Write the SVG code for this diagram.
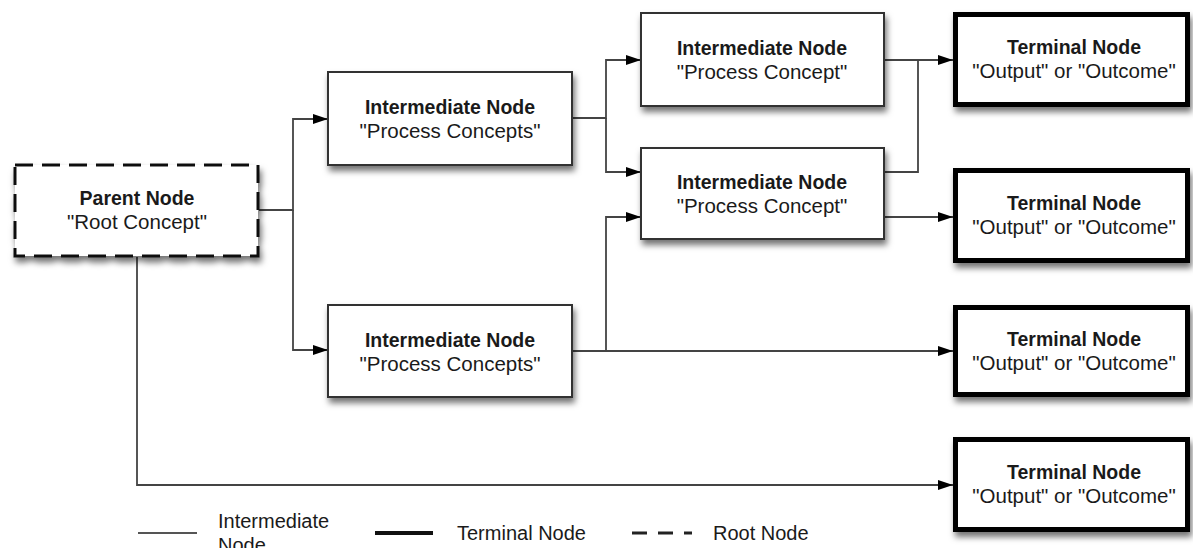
<svg xmlns="http://www.w3.org/2000/svg" width="1193" height="548" viewBox="0 0 1193 548">
<style>
.box{fill:#fff;stroke:#333;stroke-width:2;filter:url(#sh)}
.term{fill:#fff;stroke:#000;stroke-width:5;filter:url(#sh)}
.root{fill:#fff;stroke:#111;stroke-width:3;stroke-dasharray:18 9;filter:url(#sh)}
.t1{font-family:"Liberation Sans",Arial,sans-serif;font-weight:bold;font-size:19.5px;fill:#1a1a1a;text-anchor:middle}
.t2{font-family:"Liberation Sans",Arial,sans-serif;font-size:20.5px;fill:#1a1a1a;text-anchor:middle}
.lg{font-family:"Liberation Sans",Arial,sans-serif;font-size:20px;fill:#1a1a1a}
.c{fill:none;stroke:#444;stroke-width:1.8}
.ca{fill:none;stroke:#444;stroke-width:1.8;marker-end:url(#ah)}
</style>
<defs>
<filter id="sh" x="-10%" y="-10%" width="125%" height="135%">
<feDropShadow dx="2" dy="5" stdDeviation="3" flood-color="#000" flood-opacity="0.55"/>
</filter>
<marker id="ah" markerUnits="userSpaceOnUse" markerWidth="16" markerHeight="11" refX="15" refY="5" orient="auto">
<path d="M0,0 L15,5 L0,10 Z" fill="#000"/>
</marker>
</defs>

<g id="connectors">
<path class="ca" d="M259 210 H293 V119 H328"/>
<path class="ca" d="M293 210 V350 H328"/>
<path class="ca" d="M572 118 H606 V60 H641"/>
<path class="ca" d="M606 118 V172 H641"/>
<path class="ca" d="M572 351 H953"/>
<path class="ca" d="M606 351 V217 H641"/>
<path class="ca" d="M884 60 H953"/>
<path class="c" d="M884 172 H918 V60"/>
<path class="ca" d="M884 217 H953"/>
<path class="ca" d="M137 257 V485 H953"/>
</g>

<g id="parent">
<rect class="root" x="15" y="165" width="243" height="91"/>
<text class="t1" x="137" y="205">Parent Node</text>
<text class="t2" x="137" y="229">"Root Concept"</text>
</g>

<g id="intA">
<rect class="box" x="328" y="72" width="244" height="93"/>
<text class="t1" x="450" y="114">Intermediate Node</text>
<text class="t2" x="450" y="138">"Process Concepts"</text>
</g>

<g id="intB">
<rect class="box" x="328" y="305" width="244" height="92"/>
<text class="t1" x="450" y="347">Intermediate Node</text>
<text class="t2" x="450" y="371">"Process Concepts"</text>
</g>

<g id="intC">
<rect class="box" x="641" y="13" width="243" height="93"/>
<text class="t1" x="762" y="55">Intermediate Node</text>
<text class="t2" x="762" y="79">"Process Concept"</text>
</g>

<g id="intD">
<rect class="box" x="641" y="148" width="243" height="91"/>
<text class="t1" x="762" y="189">Intermediate Node</text>
<text class="t2" x="762" y="213">"Process Concept"</text>
</g>

<g id="term1">
<rect class="term" x="955.5" y="14.5" width="232" height="90"/>
<text class="t1" x="1074" y="54">Terminal Node</text>
<text class="t2" x="1074" y="78">"Output" or "Outcome"</text>
</g>

<g id="term2">
<rect class="term" x="955.5" y="170.5" width="232" height="90"/>
<text class="t1" x="1074" y="210">Terminal Node</text>
<text class="t2" x="1074" y="234">"Output" or "Outcome"</text>
</g>

<g id="term3">
<rect class="term" x="955.5" y="307.5" width="232" height="87"/>
<text class="t1" x="1074" y="346">Terminal Node</text>
<text class="t2" x="1074" y="370">"Output" or "Outcome"</text>
</g>

<g id="term4">
<rect class="term" x="955.5" y="439.5" width="232" height="90"/>
<text class="t1" x="1074" y="479">Terminal Node</text>
<text class="t2" x="1074" y="503">"Output" or "Outcome"</text>
</g>

<g id="legend">
<line x1="138" y1="533" x2="197" y2="533" stroke="#555" stroke-width="2"/>
<text class="lg" x="218" y="528">Intermediate</text>
<text class="lg" x="218" y="552">Node</text>
<line x1="375" y1="533" x2="433" y2="533" stroke="#111" stroke-width="4"/>
<text class="lg" x="457" y="540">Terminal Node</text>
<line x1="632" y1="533" x2="692" y2="533" stroke="#222" stroke-width="3" stroke-dasharray="15 11"/>
<text class="lg" x="713" y="540">Root Node</text>
</g>
</svg>
